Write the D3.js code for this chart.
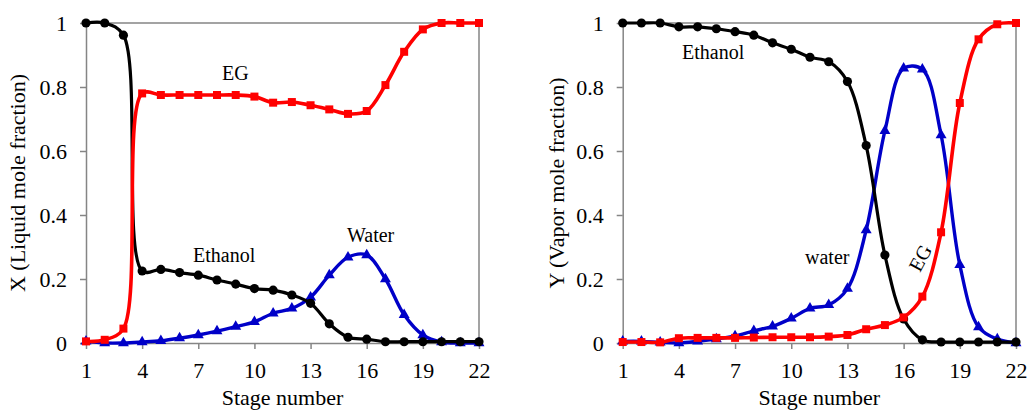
<!DOCTYPE html>
<html><head><meta charset="utf-8">
<script src="https://cdn.jsdelivr.net/npm/d3@7"></script>
<style>
body{margin:0;background:#fff;}
svg text{font-family:'Liberation Serif','Tinos','Times New Roman','DejaVu Serif',serif !important;fill:#000;}
</style></head>
<body><svg id="c" width="1027" height="413"></svg>
<script>
const stages = [1,2,3,4,5,6,7,8,9,10,11,12,13,14,15,16,17,18,19,20,21,22];
const xTicks = [1,4,7,10,13,16,19,22];
const yTicks = [0,0.2,0.4,0.6,0.8,1];
const yTickLabels = ["0","0.2","0.4","0.6","0.8","1"];

// Liquid mole fractions (left panel)
const xEthanol = [1.0,1.0,0.962,0.225,0.23,0.22,0.212,0.197,0.184,0.17,0.165,0.15,0.124,0.06,0.018,0.012,0.004,0.004,0.004,0.004,0.004,0.004];
const xEG = [0.005,0.01,0.045,0.78,0.775,0.775,0.775,0.775,0.775,0.77,0.751,0.753,0.743,0.73,0.716,0.725,0.806,0.91,0.98,1.0,1.0,1.0];
const xWater = [0.005,0.0,0.0,0.003,0.007,0.015,0.025,0.037,0.051,0.066,0.093,0.108,0.143,0.212,0.268,0.275,0.2,0.088,0.025,0.003,0.0,0.0];

// Vapor mole fractions (right panel)
const yEthanol = [1.0,1.0,1.0,0.988,0.988,0.982,0.973,0.962,0.938,0.918,0.893,0.879,0.817,0.617,0.275,0.075,0.01,0.003,0.003,0.003,0.003,0.003];
const yWater = [0.005,0.005,0.002,0.0,0.005,0.012,0.022,0.038,0.052,0.077,0.108,0.119,0.17,0.353,0.663,0.858,0.855,0.65,0.244,0.05,0.012,0.0];
const yEG = [0.003,0.003,0.002,0.015,0.016,0.016,0.016,0.017,0.018,0.018,0.018,0.02,0.025,0.043,0.056,0.08,0.145,0.346,0.75,0.949,0.996,1.0];

const svg = d3.select("#c");
const GRAY = "#858585";
const COL = {eth:"#000000", eg:"#ff0000", water:"#0000c8"};

function panel(opt){
  const x = d3.scaleLinear().domain([1,22]).range([opt.x0, opt.x1]);
  const y = d3.scaleLinear().domain([0,1]).range([343,23]);
  const g = svg.append("g");

  g.append("line").attr("x1",opt.x0).attr("x2",opt.x1).attr("y1",23).attr("y2",23).attr("stroke",GRAY).attr("stroke-width",1.5);
  g.append("line").attr("x1",opt.x1).attr("x2",opt.x1).attr("y1",23).attr("y2",343).attr("stroke",GRAY).attr("stroke-width",1.5);

  const ya = g.append("g").attr("transform",`translate(${opt.x0},0)`)
    .call(d3.axisLeft(y).tickValues(yTicks).tickFormat((d,i)=>yTickLabels[i]).tickSize(6).tickPadding(13).tickSizeOuter(0));
  const xa = g.append("g").attr("transform",`translate(0,343)`)
    .call(d3.axisBottom(x).tickValues(xTicks).tickFormat(d=>String(d)).tickSize(6).tickPadding(13).tickSizeOuter(0));
  [ya,xa].forEach(a=>{
    a.attr("font-family",null);
    a.select(".domain").attr("stroke",GRAY).attr("stroke-width",1.5);
    a.selectAll(".tick line").attr("stroke",GRAY).attr("stroke-width",1.5);
    a.selectAll("text").attr("font-size",22).attr("fill","#000");
  });

  g.append("text").attr("x",(opt.x0+opt.x1)/2).attr("y",405).attr("text-anchor","middle")
    .attr("font-size",22).text("Stage number");
  g.append("text").attr("transform",`translate(${opt.ytx},183) rotate(-90)`).attr("text-anchor","middle")
    .attr("dy","0.35em").attr("font-size",22).text(opt.ytitle);

  const line = d3.line().x((d,i)=>x(stages[i])).y(d=>y(d)).curve(d3.curveCatmullRom.alpha(0.5));
  const series = [
    {vals:opt.water, col:COL.water, m:"tri", w:3.4},
    {vals:opt.eth, col:COL.eth, m:"circ", w:3.2},
    {vals:opt.eg, col:COL.eg, m:"sq", w:3.6}
  ];
  series.forEach(s=>{
    g.append("path").datum(s.vals).attr("d",line).attr("fill","none").attr("stroke",s.col).attr("stroke-width",s.w);
    const sym = s.m==="tri"? d3.symbolTriangle : s.m==="sq"? d3.symbolSquare : d3.symbolCircle;
    const size = s.m==="tri"? 52 : s.m==="sq"? 64 : 66;
    g.selectAll(null).data(s.vals).join("path")
      .attr("transform",(d,i)=>`translate(${x(stages[i])},${y(d)})`)
      .attr("d",d3.symbol().type(sym).size(size)).attr("fill",s.col);
  });
  opt.labels.forEach(l=>{
    const t = g.append("text").attr("font-size",20).text(l.t);
    if(l.r){ t.attr("transform",`translate(${l.x},${l.y}) rotate(${l.r})`).attr("text-anchor","middle").attr("dy","0.35em"); }
    else t.attr("x",l.x).attr("y",l.y);
  });
}

panel({x0:86, x1:479, ytx:17, ytitle:"X (Liquid mole fraction)",
  eth:xEthanol, eg:xEG, water:xWater,
  labels:[{t:"EG",x:222,y:80},{t:"Ethanol",x:193,y:262},{t:"Water",x:347,y:242}]});
panel({x0:622.7, x1:1016, ytx:556, ytitle:"Y (Vapor mole fraction)",
  eth:yEthanol, eg:yEG, water:yWater,
  labels:[{t:"Ethanol",x:682,y:59},{t:"water",x:805,y:264},{t:"EG",x:920,y:258,r:-62}]});
</script></body></html>
